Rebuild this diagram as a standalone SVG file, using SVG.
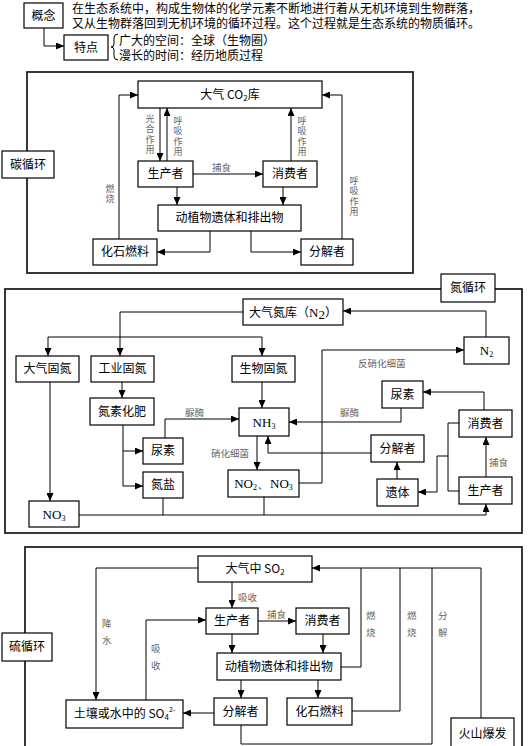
<svg xmlns="http://www.w3.org/2000/svg" width="530" height="746" viewBox="0 0 530 746">
<defs>
<marker id="ah" markerUnits="userSpaceOnUse" markerWidth="8" markerHeight="7" refX="8" refY="3.5" orient="auto">
<path d="M0,0 L8,3.5 L0,7 z" fill="#000"/>
</marker>
<style>
.box{fill:#fff;stroke:#000;stroke-width:1.2}
.frame{fill:none;stroke:#222;stroke-width:1.8}
.t{font-family:"Noto Sans CJK SC","Noto Sans",sans-serif;font-size:12px;fill:#000;text-anchor:middle}
.p{font-family:"Liberation Sans","Noto Sans CJK SC",sans-serif;font-size:12px;fill:#000}
.f{font-family:"Liberation Serif",serif;font-size:13px}
.lab{font-family:"Noto Sans CJK SC","Noto Sans",sans-serif;font-size:9.5px;fill:#666}
.vl{font-family:"Noto Sans CJK SC","Noto Sans",sans-serif;font-size:9px;fill:#666;writing-mode:vertical-rl;letter-spacing:1.5px}
#connectors path{fill:none;stroke:#000;stroke-width:1}
#connectors .a{marker-end:url(#ah)}
</style>
</defs>
<rect width="530" height="746" fill="#fff"/>

<!-- Section frames -->
<rect class="frame" x="27" y="72" width="386" height="201"/>
<rect class="frame" x="5" y="289" width="517" height="244"/>
<rect class="frame" x="25" y="547" width="497" height="213"/>

<g id="connectors">
<!-- top -->
<path class="a" d="M44,28 V46 H64"/>
<path d="M118,34 q-4,0 -4,4 v6 q0,3 -3,3 q3,0 3,3 v6 q0,4 4,4" stroke-width="0.9"/>
<!-- carbon -->
<path class="a" d="M160,108 V161"/>
<path class="a" d="M167,161 V108"/>
<path class="a" d="M193,174 H263"/>
<path class="a" d="M291,161 V108"/>
<path class="a" d="M177,187 V205"/>
<path class="a" d="M283,187 V205"/>
<path class="a" d="M210,231 V252 H157"/>
<path class="a" d="M251,231 V252 H301"/>
<path class="a" d="M119,239 V95 H138"/>
<path class="a" d="M342,239 V95 H322"/>
<!-- nitrogen -->
<path class="a" d="M243,312 H120 V356"/>
<path class="a" d="M120,337 H48 V356"/>
<path class="a" d="M120,337 H262 V356"/>
<path class="a" d="M122,382 V398"/>
<path class="a" d="M50,382 V501"/>
<path class="a" d="M262,382 V408"/>
<path class="a" d="M123,425 V486 H143"/>
<path class="a" d="M123,451 H143"/>
<path class="a" d="M165,438 V419 H239"/>
<path class="a" d="M257,436 V470"/>
<path class="a" d="M299,483 H322 V350 H464"/>
<path class="a" d="M486,337 V311 H343"/>
<path class="a" d="M484,410 V392 H423"/>
<path class="a" d="M401,408 V422 H289"/>
<path class="a" d="M371,453 H268 V436"/>
<path class="a" d="M397,479 V462"/>
<path class="a" d="M486,477 V437"/>
<path d="M459,423 H448 V491 H459"/>
<path class="a" d="M448,456 H437 V492 H418"/>
<path class="a" d="M79,515 H486 V504"/>
<path d="M163,498 V515"/>
<path d="M264,497 V515"/>
<!-- sulfur -->
<path class="a" d="M232,582 V608"/>
<path class="a" d="M198,568 H96 V700"/>
<path class="a" d="M146,700 V620 H206"/>
<path class="a" d="M258,621 H296"/>
<path class="a" d="M232,634 V653"/>
<path class="a" d="M323,634 V653"/>
<path class="a" d="M241,680 V698"/>
<path class="a" d="M318,680 V698"/>
<path class="a" d="M214,713 H183"/>
<path d="M241,725 V744 H432 V568"/>
<path d="M341,667 H361 V568"/>
<path d="M352,711 H400 V568"/>
<path class="a" d="M481,718 V568 H312"/>
</g>

<!-- connector labels -->
<g id="labels">
<text class="vl" x="150" y="114">光合作用</text>
<text class="vl" x="178" y="116">呼吸作用</text>
<text class="vl" x="302" y="116">呼吸作用</text>
<text class="vl" x="110" y="184" letter-spacing="5">燃烧</text>
<text class="vl" x="354" y="176">呼吸作用</text>
<text class="lab" x="212" y="171">捕食</text>
<text class="lab" x="185" y="416">脲酶</text>
<text class="lab" x="211" y="457">硝化细菌</text>
<text class="lab" x="358" y="367">反硝化细菌</text>
<text class="lab" x="340" y="416">脲酶</text>
<text class="lab" x="489" y="466">捕食</text>
<text class="lab" x="238" y="601">吸收</text>
<text class="lab" x="102" y="627">降</text>
<text class="lab" x="102" y="644">水</text>
<text class="lab" x="151" y="652">吸</text>
<text class="lab" x="151" y="669">收</text>
<text class="lab" x="267" y="618">捕食</text>
<text class="lab" x="366" y="619">燃</text>
<text class="lab" x="366" y="636">烧</text>
<text class="lab" x="407" y="619">燃</text>
<text class="lab" x="407" y="636">烧</text>
<text class="lab" x="438" y="619">分</text>
<text class="lab" x="438" y="636">解</text>
</g>

<!-- top section -->
<g id="concept"><rect class="box" x="24" y="3" width="39" height="25"/><text class="t" x="43.5" y="20">概念</text></g>
<text class="p" x="72" y="13">在生态系统中，构成生物体的化学元素不断地进行着从无机环境到生物群落，</text>
<text class="p" x="72" y="28">又从生物群落回到无机环境的循环过程。这个过程就是生态系统的物质循环。</text>
<g id="feature"><rect class="box" x="64" y="35" width="44" height="25"/><text class="t" x="86" y="52">特点</text></g>
<text class="p" x="119" y="45">广大的空间：全球（生物圈）</text>
<text class="p" x="119" y="60">漫长的时间：经历地质过程</text>

<!-- carbon -->
<g id="c-title"><rect class="box" x="2" y="151" width="52" height="27"/><text class="t" x="28" y="169">碳循环</text></g>
<g id="c-co2"><rect class="box" x="138" y="81" width="184" height="27"/><text class="t" x="230" y="99">大气 CO<tspan font-size="8" dy="2">2</tspan><tspan dy="-2">库</tspan></text></g>
<g id="c-producer"><rect class="box" x="138" y="161" width="55" height="26"/><text class="t" x="165.5" y="178">生产者</text></g>
<g id="c-consumer"><rect class="box" x="263" y="161" width="54" height="26"/><text class="t" x="290" y="178">消费者</text></g>
<g id="c-remains"><rect class="box" x="158" y="205" width="143" height="26"/><text class="t" x="229.5" y="222">动植物遗体和排出物</text></g>
<g id="c-fossil"><rect class="box" x="93" y="239" width="64" height="26"/><text class="t" x="125" y="256">化石燃料</text></g>
<g id="c-decomposer"><rect class="box" x="301" y="239" width="52" height="26"/><text class="t" x="327" y="256">分解者</text></g>

<!-- nitrogen -->
<g id="n-title"><rect class="box" x="441" y="274" width="54" height="28"/><text class="t" x="468" y="292">氮循环</text></g>
<g id="n-n2pool"><rect class="box" x="243" y="299" width="100" height="26"/><text class="t" x="293" y="317">大气氮库（<tspan class="f">N</tspan><tspan class="f" font-size="8" dy="2">2</tspan><tspan dy="-2">）</tspan></text></g>
<g id="n-atmfix"><rect class="box" x="16" y="356" width="63" height="26"/><text class="t" x="47.5" y="373">大气固氮</text></g>
<g id="n-indfix"><rect class="box" x="91" y="356" width="63" height="26"/><text class="t" x="122.5" y="373">工业固氮</text></g>
<g id="n-biofix"><rect class="box" x="232" y="356" width="63" height="26"/><text class="t" x="263.5" y="373">生物固氮</text></g>
<g id="n-fert"><rect class="box" x="90" y="398" width="64" height="27"/><text class="t" x="122" y="416">氮素化肥</text></g>
<g id="n-nh3"><rect class="box" x="239" y="408" width="50" height="28"/><text class="t f" x="264" y="427">NH<tspan font-size="8" dy="2">3</tspan></text></g>
<g id="n-urea1"><rect class="box" x="143" y="438" width="40" height="26"/><text class="t" x="163" y="455">尿素</text></g>
<g id="n-salt"><rect class="box" x="143" y="472" width="40" height="26"/><text class="t" x="163" y="489">氮盐</text></g>
<g id="n-no3"><rect class="box" x="29" y="501" width="50" height="26"/><text class="t f" x="54" y="519">NO<tspan font-size="8" dy="2">3</tspan></text></g>
<g id="n-nox"><rect class="box" x="228" y="470" width="71" height="27"/><text class="t f" x="263.5" y="488">NO<tspan font-size="8" dy="2">2</tspan><tspan dy="-2">、NO</tspan><tspan font-size="8" dy="2">3</tspan></text></g>
<g id="n-n2"><rect class="box" x="464" y="337" width="45" height="27"/><text class="t f" x="486.5" y="355">N<tspan font-size="8" dy="2">2</tspan></text></g>
<g id="n-urea2"><rect class="box" x="382" y="381" width="41" height="27"/><text class="t" x="402.5" y="399">尿素</text></g>
<g id="n-consumer"><rect class="box" x="459" y="410" width="53" height="27"/><text class="t" x="485.5" y="428">消费者</text></g>
<g id="n-decomposer"><rect class="box" x="371" y="435" width="53" height="27"/><text class="t" x="397.5" y="453">分解者</text></g>
<g id="n-remains"><rect class="box" x="377" y="479" width="41" height="27"/><text class="t" x="397.5" y="497">遗体</text></g>
<g id="n-producer"><rect class="box" x="459" y="477" width="53" height="27"/><text class="t" x="485.5" y="495">生产者</text></g>

<!-- sulfur -->
<g id="s-title"><rect class="box" x="2" y="633" width="50" height="28"/><text class="t" x="27" y="651">硫循环</text></g>
<g id="s-so2"><rect class="box" x="198" y="556" width="114" height="26"/><text class="t" x="255" y="573">大气中 SO<tspan font-size="8" dy="2">2</tspan></text></g>
<g id="s-producer"><rect class="box" x="206" y="608" width="52" height="26"/><text class="t" x="232" y="625">生产者</text></g>
<g id="s-consumer"><rect class="box" x="296" y="608" width="53" height="26"/><text class="t" x="322.5" y="625">消费者</text></g>
<g id="s-remains"><rect class="box" x="217" y="653" width="124" height="27"/><text class="t" x="279" y="671">动植物遗体和排出物</text></g>
<g id="s-decomposer"><rect class="box" x="214" y="698" width="53" height="27"/><text class="t" x="240.5" y="716">分解者</text></g>
<g id="s-fossil"><rect class="box" x="287" y="698" width="65" height="27"/><text class="t" x="319.5" y="716">化石燃料</text></g>
<g id="s-soil"><rect class="box" x="66" y="700" width="117" height="28"/><text class="t" x="124.5" y="718">土壤或水中的 SO<tspan font-size="8" dy="2">4</tspan><tspan font-size="7" dy="-8">2-</tspan></text></g>
<g id="s-volcano"><rect class="box" x="451" y="718" width="63" height="35"/><text class="t" x="482.5" y="738">火山爆发</text></g>
</svg>
